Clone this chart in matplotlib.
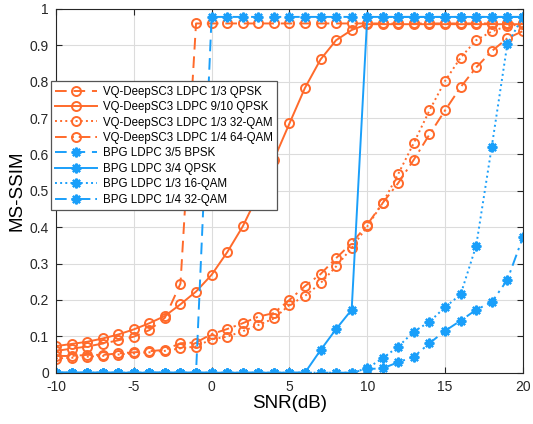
import numpy as np
import matplotlib.pyplot as plt

plt.rcParams['font.family'] = ['Liberation Sans', 'DejaVu Sans']
plt.rcParams['axes.unicode_minus'] = False

snr = np.arange(-10, 21)

# VQ-DeepSC3 curves
vq_13_qpsk = [0.060, 0.066, 0.072, 0.080, 0.089, 0.099, 0.117, 0.151, 0.245, 0.960,
              0.960, 0.960, 0.960, 0.960, 0.960, 0.960, 0.960, 0.960, 0.960, 0.960,
              0.960, 0.960, 0.960, 0.960, 0.960, 0.960, 0.960, 0.960, 0.960, 0.960, 0.960]
vq_910_qpsk = [0.073, 0.079, 0.085, 0.094, 0.105, 0.119, 0.136, 0.156, 0.188, 0.223,
               0.269, 0.331, 0.402, 0.490, 0.586, 0.685, 0.783, 0.861, 0.914, 0.942,
               0.958, 0.958, 0.958, 0.958, 0.958, 0.958, 0.958, 0.958, 0.958, 0.958, 0.958]
vq_13_32qam = [0.039, 0.041, 0.044, 0.046, 0.050, 0.053, 0.056, 0.060, 0.067, 0.072,
               0.092, 0.099, 0.114, 0.131, 0.149, 0.186, 0.211, 0.246, 0.292, 0.343,
               0.402, 0.467, 0.547, 0.632, 0.721, 0.802, 0.866, 0.914, 0.938, 0.953, 0.958]
vq_14_64qam = [0.046, 0.046, 0.049, 0.049, 0.053, 0.056, 0.059, 0.063, 0.081, 0.083,
               0.106, 0.120, 0.136, 0.154, 0.164, 0.200, 0.238, 0.271, 0.315, 0.356,
               0.407, 0.467, 0.522, 0.586, 0.655, 0.721, 0.785, 0.839, 0.884, 0.919, 0.939]

# BPG curves
bpg_35_bpsk = [0] * 10 + [0.978] * 21
bpg_34_qpsk = [0] * 16 + [0.0, 0.062, 0.120, 0.173] + [0.978] * 11
bpg_13_16qam = [0] * 20 + [0.012, 0.040, 0.072, 0.113, 0.140, 0.180, 0.215, 0.349,
                           0.621, 0.903, 0.978]
bpg_14_32qam = [0] * 20 + [0.010, 0.012, 0.029, 0.044, 0.081, 0.115, 0.143, 0.173,
                           0.194, 0.255, 0.372]

labels = ['VQ-DeepSC3 LDPC 1/3 QPSK', 'VQ-DeepSC3 LDPC 9/10 QPSK',
          'VQ-DeepSC3 LDPC 1/3 32-QAM', 'VQ-DeepSC3 LDPC 1/4 64-QAM',
          'BPG LDPC 3/5 BPSK', 'BPG LDPC 3/4 QPSK',
          'BPG LDPC 1/3 16-QAM', 'BPG LDPC 1/4 32-QAM']

orange = '#FF6A2B'
blue = '#1A9FFA'
dash = (0, (6, 3.5))
dashdot = (0, (6, 2.5, 1.2, 2.5))

fig = plt.figure(figsize=(5.33, 4.24), dpi=100)
ax = fig.add_axes([0.105, 0.121, 0.876, 0.858])

vq = [vq_13_qpsk, vq_910_qpsk, vq_13_32qam, vq_14_64qam]
bpg = [bpg_35_bpsk, bpg_34_qpsk, bpg_13_16qam, bpg_14_32qam]
styles = [dash, '-', ':', dashdot]

for y, ls, lab in zip(vq, styles, labels[:4]):
    ax.plot(snr, y, color=orange, ls=ls, lw=1.4, marker='o', ms=6.5,
            mfc='none', mec=orange, mew=1.4, label=lab)
for y, ls, lab in zip(bpg, styles, labels[4:]):
    ax.plot(snr, y, color=blue, ls=ls, lw=1.4, marker=(8, 2, 0), ms=7,
            mec=blue, mew=1.6, label=lab)

ax.set_xlim(-10, 20)
ax.set_ylim(0, 1)
ax.set_xticks([-10, -5, 0, 5, 10, 15, 20])
ax.set_yticks(np.arange(0, 1.01, 0.1))
ax.set_yticklabels(['0', '0.1', '0.2', '0.3', '0.4', '0.5', '0.6', '0.7', '0.8', '0.9', '1'])
ax.tick_params(direction='in', top=True, right=True, labelsize=10, length=4,
               colors='#262626', pad=5)
ax.grid(True, color='#DCDCDC', lw=0.8)
ax.set_axisbelow(True)
for s in ax.spines.values():
    s.set_color('#262626')
    s.set_linewidth(0.8)

ax.set_xlabel('SNR(dB)', fontsize=13.5, labelpad=1)
ax.set_ylabel('MS-SSIM', fontsize=13.5, labelpad=3)

leg = ax.legend(loc='upper left', bbox_to_anchor=(50.7 / 533, 343 / 424),
                bbox_transform=fig.transFigure, borderaxespad=0,
                fontsize=8.3, handlelength=3.6, framealpha=1, fancybox=False,
                edgecolor='#555555', labelspacing=0.3, borderpad=0.4,
                handletextpad=0.5)
leg.get_frame().set_linewidth(0.9)
leg.set_zorder(10)

fig.savefig('out.png', dpi=100)
